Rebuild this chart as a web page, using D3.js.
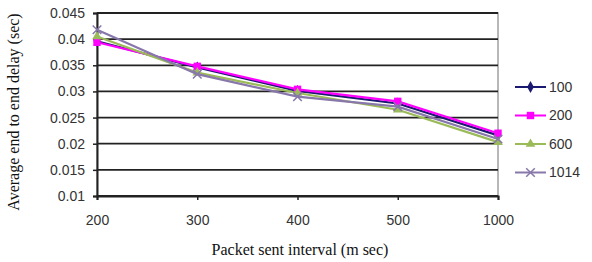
<!DOCTYPE html>
<html>
<head>
<meta charset="utf-8">
<script src="https://cdn.jsdelivr.net/npm/d3@7"></script>
<style>
  body { margin: 0; background: #fff; }
  svg { display: block; }
</style>
</head>
<body>
<div id="chart"></div>
<script>
// data
var intervals = ["200", "300", "400", "500", "1000"];
var seriesNames = ["100", "200", "600", "1014"];
var s100 = [0.0396, 0.0346, 0.0301, 0.0277, 0.0216];
var s200 = [0.0394, 0.0348, 0.0304, 0.0281, 0.0220];
var s600 = [0.0405, 0.0336, 0.0297, 0.0265, 0.0203];
var s1014 = [0.0418, 0.0333, 0.0290, 0.0271, 0.0209];
var yTicks = [0.01, 0.015, 0.02, 0.025, 0.03, 0.035, 0.04, 0.045];

var colors = ["#1a1a70", "#ff00ff", "#9bbb59", "#8877aa"];
var symbols = [d3.symbolDiamond, d3.symbolSquare, d3.symbolTriangle, d3.symbolX];

var width = 592, height = 262;
var margin = { top: 13, right: 94, bottom: 66, left: 97 };
var w = width - margin.left - margin.right,
    h = height - margin.top - margin.bottom;

var svg = d3.select("#chart").append("svg")
    .attr("width", width)
    .attr("height", height);

var g = svg.append("g")
    .attr("transform", "translate(" + margin.left + "," + margin.top + ")");

var x = d3.scalePoint().domain(intervals).range([0, w]).padding(0);
var y = d3.scaleLinear().domain([0.01, 0.045]).range([h, 0]);

// plot border (right/top grey)
g.append("rect")
    .attr("x", 0).attr("y", 0)
    .attr("width", w).attr("height", h)
    .attr("fill", "none")
    .attr("stroke", "#a0a0a0")
    .attr("stroke-width", 1.5);

// gridlines
g.selectAll(".grid")
    .data(yTicks)
    .enter().append("line")
    .attr("class", "grid")
    .attr("x1", 0).attr("x2", w)
    .attr("y1", d => y(d)).attr("y2", d => y(d))
    .attr("stroke", "#222")
    .attr("stroke-width", 1.8);

// y axis
var yAxis = g.append("g")
    .call(d3.axisLeft(y).tickValues(yTicks).tickSize(4).tickPadding(8)
        .tickFormat(d => String(+d.toFixed(3))));
yAxis.select(".domain").attr("stroke", "#222").attr("stroke-width", 2);
yAxis.selectAll(".tick line").attr("stroke", "#222").attr("stroke-width", 1.5);
yAxis.selectAll("text")
    .style("font-family", "'Liberation Sans', Arial, sans-serif")
    .style("font-size", "14px")
    .style("fill", "#333");

// x axis
var xAxis = g.append("g")
    .attr("transform", "translate(0," + h + ")")
    .call(d3.axisBottom(x).tickSize(4).tickPadding(15));
xAxis.select(".domain").attr("stroke", "#222").attr("stroke-width", 2);
xAxis.selectAll(".tick line").attr("stroke", "#222").attr("stroke-width", 1.5);
xAxis.selectAll("text")
    .style("font-family", "'Liberation Sans', Arial, sans-serif")
    .style("font-size", "14px")
    .style("fill", "#333");

// series
var series = [s100, s200, s600, s1014].map(function (vals, i) {
    return {
        name: seriesNames[i],
        values: vals.map(function (v, j) { return { cat: intervals[j], val: v }; })
    };
});

var line = d3.line()
    .x(d => x(d.cat))
    .y(d => y(d.val));

var seriesG = g.selectAll(".series")
    .data(series)
    .enter().append("g")
    .attr("class", "series");

seriesG.append("path")
    .attr("d", d => line(d.values))
    .attr("fill", "none")
    .attr("stroke", (d, i) => colors[i])
    .attr("stroke-width", 2.2);

seriesG.each(function (d, i) {
    var sym = d3.symbol().type(symbols[i]).size(i === 3 ? 50 : (i === 1 ? 55 : 40));
    d3.select(this).selectAll("path.pt")
        .data(d.values)
        .enter().append("path")
        .attr("class", "pt")
        .attr("transform", p => "translate(" + x(p.cat) + "," + y(p.val) + ")")
        .attr("d", sym)
        .attr("fill", i === 3 ? "none" : colors[i])
        .attr("stroke", colors[i])
        .attr("stroke-width", i === 3 ? 1.5 : 0);
});

// legend
var legend = svg.selectAll(".legend")
    .data(seriesNames)
    .enter().append("g")
    .attr("class", "legend")
    .attr("transform", (d, i) => "translate(515," + (87 + i * 28.5) + ")");

legend.append("line")
    .attr("x1", 0).attr("x2", 31)
    .attr("stroke", (d, i) => colors[i])
    .attr("stroke-width", 2);

legend.append("path")
    .attr("transform", "translate(15.5,0)")
    .attr("d", (d, i) => d3.symbol().type(symbols[i]).size(i === 3 ? 50 : (i === 1 ? 55 : 40))())
    .attr("fill", (d, i) => i === 3 ? "none" : colors[i])
    .attr("stroke", (d, i) => colors[i])
    .attr("stroke-width", (d, i) => i === 3 ? 1.5 : 0);

legend.append("text")
    .attr("x", 34)
    .attr("dy", "0.35em")
    .style("font-family", "'Liberation Sans', Arial, sans-serif")
    .style("font-size", "14px")
    .style("fill", "#333")
    .text(d => d);

// axis titles
svg.append("text")
    .attr("transform", "translate(19,112) rotate(-90)")
    .style("text-anchor", "middle")
    .style("font-family", "'Liberation Serif', 'Times New Roman', serif")
    .style("font-size", "16px")
    .style("fill", "#111")
    .text("Average end to end delay (sec)");

svg.append("text")
    .attr("x", 300)
    .attr("y", 255)
    .style("text-anchor", "middle")
    .style("font-family", "'Liberation Serif', 'Times New Roman', serif")
    .style("font-size", "16px")
    .style("fill", "#111")
    .text("Packet sent interval (m sec)");
</script>
</body>
</html>
